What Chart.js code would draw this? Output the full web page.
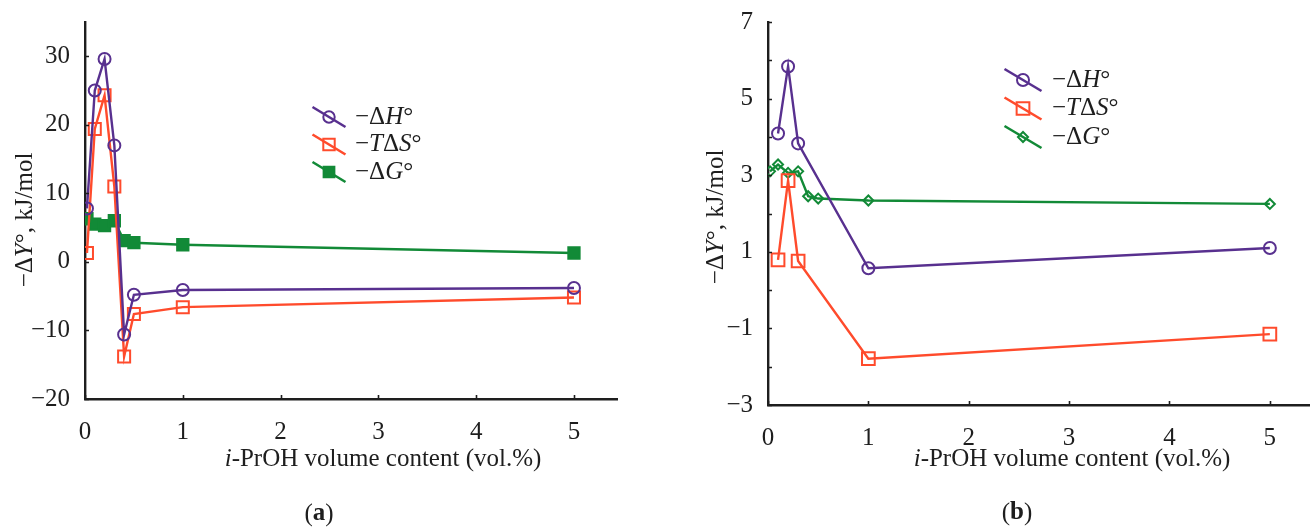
<!DOCTYPE html>
<html>
<head>
<meta charset="utf-8">
<script src="https://cdn.jsdelivr.net/npm/chart.js@4.4.1/dist/chart.umd.min.js"></script>
<style>
  html, body { margin: 0; padding: 0; background: #ffffff; }
  body { width: 1310px; height: 527px; position: relative; overflow: hidden; }
  .panel { position: absolute; top: 0; width: 655px; height: 527px; }
  #pa { left: 0; }
  #pb { left: 655px; }
</style>
</head>
<body>
<div class="panel" id="pa"><canvas id="ca" width="655" height="527"></canvas></div>
<div class="panel" id="pb"><canvas id="cb" width="655" height="527"></canvas></div>
<script>
// ---------- data ----------
const seriesNames = ['−ΔH°', '−TΔS°', '−ΔG°'];

// panel (a)
const volA      = [0.02, 0.1, 0.2, 0.3, 0.4, 0.5, 1, 5];
const enthalpyA = [7.8, 25.0, 29.6, 17.0, -10.6, -4.8, -4.1, -3.8];
const entropyA  = [1.3, 19.4, 24.3, 11.0, -13.8, -7.6, -6.6, -5.2];
const gibbsA    = [6.3, 5.5, 5.3, 6.0, 3.1, 2.8, 2.5, 1.3];

// panel (b)
const volB      = [0.1, 0.2, 0.3, 1, 5];
const enthalpyB = [4.09, 5.84, 3.83, 0.57, 1.1];
const entropyB  = [0.79, 2.86, 0.76, -1.79, -1.15];
const volBG     = [0.02, 0.1, 0.2, 0.3, 0.4, 0.5, 1, 5];
const gibbsB    = [3.1, 3.28, 3.06, 3.1, 2.45, 2.39, 2.34, 2.25];

// ticks
const xTickValues  = [0, 1, 2, 3, 4, 5];
const yTickValuesA = [-20, -10, 0, 10, 20, 30];
const yTickValuesB = [-3, -2, -1, 0, 1, 2, 3, 4, 5, 6, 7];
const yLabelledB   = [-3, -1, 1, 3, 5, 7];

// ---------- styling ----------
const PURPLE = '#58308f';
const RED    = '#ff4b2c';
const GREEN  = '#128a37';
const INK    = '#1e1e1e';
const SERIF  = '"Liberation Serif", "Times New Roman", serif';
const FS     = 25;

function pts(xs, ys) { return xs.map((x, i) => ({ x: x, y: ys[i] })); }
function minusSign(v) { return String(v).replace('-', '−'); }

function series(label, xs, ys, color, style, radius, filled) {
  return {
    label: label,
    data: pts(xs, ys),
    borderColor: color,
    borderWidth: 2.4,
    tension: 0,
    clip: 0,
    pointStyle: style,
    pointRadius: radius,
    pointHoverRadius: radius,
    pointBorderWidth: 2,
    pointBorderColor: color,
    pointBackgroundColor: filled ? color : 'rgba(255,255,255,0)',
    _filled: filled
  };
}

// text made of plain and italic runs
function drawRich(ctx, runs, x, y, align, angle) {
  ctx.save();
  ctx.translate(x, y);
  if (angle) ctx.rotate(angle);
  ctx.textBaseline = 'middle';
  ctx.fillStyle = INK;
  let total = 0;
  runs.forEach(r => {
    ctx.font = (r.b ? 'bold ' : '') + (r.i ? 'italic ' : '') + FS + 'px ' + SERIF;
    r.w = ctx.measureText(r.t).width;
    total += r.w;
  });
  let cx = align === 'center' ? -total / 2 : 0;
  runs.forEach(r => {
    ctx.font = (r.b ? 'bold ' : '') + (r.i ? 'italic ' : '') + FS + 'px ' + SERIF;
    ctx.textAlign = 'left';
    ctx.fillText(r.t, cx, 0);
    cx += r.w;
  });
  ctx.restore();
}

// legend label: Latin letters in italics
function labelRuns(label) {
  const runs = [];
  for (const ch of label) {
    const it = /[A-Za-z]/.test(ch);
    if (runs.length && runs[runs.length - 1].i === it) runs[runs.length - 1].t += ch;
    else runs.push({ t: ch, i: it });
  }
  return runs;
}

function drawMarker(ctx, ds, x, y) {
  const r = ds.pointRadius;
  ctx.save();
  ctx.lineWidth = ds.pointBorderWidth;
  ctx.strokeStyle = ds.pointBorderColor;
  ctx.fillStyle = ds._filled ? ds.pointBorderColor : '#ffffff';
  ctx.beginPath();
  if (ds.pointStyle === 'circle') {
    ctx.arc(x, y, r, 0, Math.PI * 2);
  } else if (ds.pointStyle === 'rect') {
    const s = Math.SQRT1_2 * r;
    ctx.rect(x - s, y - s, 2 * s, 2 * s);
  } else {
    ctx.moveTo(x - r, y); ctx.lineTo(x, y - r); ctx.lineTo(x + r, y); ctx.lineTo(x, y + r); ctx.closePath();
  }
  if (ds._filled) ctx.fill();
  ctx.stroke();
  ctx.restore();
}

// short tick marks pointing into the plot area
const innerTicks = {
  id: 'innerTicks',
  afterDraw(chart, args, opts) {
    const { ctx, chartArea, scales } = chart;
    const len = opts.len || 4;
    ctx.save();
    ctx.strokeStyle = INK;
    ctx.lineWidth = 1.6;
    ctx.beginPath();
    scales.y.ticks.forEach(t => {
      const py = Math.round(scales.y.getPixelForValue(t.value)) + 0.5;
      ctx.moveTo(chartArea.left, py); ctx.lineTo(chartArea.left + len, py);
    });
    scales.x.ticks.forEach(t => {
      const px = Math.round(scales.x.getPixelForValue(t.value)) + 0.5;
      ctx.moveTo(px, chartArea.bottom); ctx.lineTo(px, chartArea.bottom - len);
    });
    ctx.stroke();
    ctx.restore();
  }
};

// legend with slanted line through each marker, plus axis titles and caption
const annotations = {
  id: 'annotations',
  afterDraw(chart, args, o) {
    const ctx = chart.ctx;
    chart.data.datasets.forEach((ds, i) => {
      const cy = o.legend.y + i * o.legend.dy;
      const cx = o.legend.x;
      ctx.save();
      ctx.strokeStyle = ds.borderColor;
      ctx.lineWidth = 2.6;
      ctx.beginPath();
      ctx.moveTo(cx - o.legend.hx, cy - o.legend.hy);
      ctx.lineTo(cx + o.legend.hx, cy + o.legend.hy);
      ctx.stroke();
      ctx.restore();
      drawMarker(ctx, Object.assign({}, ds, { pointRadius: ds.pointRadius * o.legend.scale }), cx, cy);
      drawRich(ctx, labelRuns(ds.label), o.legend.tx, cy, 'left', 0);
    });
    drawRich(ctx, [{ t: '−Δ' }, { t: 'Y', i: true }, { t: '°, kJ/mol' }], o.yTitle.x, o.yTitle.y, 'center', -Math.PI / 2);
    drawRich(ctx, [{ t: 'i', i: true }, { t: '-PrOH volume content (vol.%)' }], o.xTitle.x, o.xTitle.y, 'center', 0);
    drawRich(ctx, [{ t: '(' }, { t: o.caption.t, b: true }, { t: ')' }], o.caption.x, o.caption.y, 'center', 0);
  }
};

function makeChart(canvas, datasets, cfg) {
  return new Chart(canvas, {
    type: 'line',
    data: { datasets: datasets },
    plugins: [innerTicks, annotations],
    options: {
      responsive: false,
      devicePixelRatio: 1,
      animation: false,
      events: [],
      layout: { padding: cfg.padding, autoPadding: false },
      plugins: {
        legend: { display: false },
        tooltip: { enabled: false },
        innerTicks: { len: 4 },
        annotations: cfg.notes
      },
      scales: {
        x: {
          type: 'linear',
          min: 0, max: cfg.xMax,
          grid: { display: false },
          border: { display: true, color: INK, width: 2.4 },
          afterBuildTicks: s => { s.ticks = xTickValues.map(v => ({ value: v })); },
          ticks: {
            font: { family: SERIF, size: FS },
            color: INK,
            padding: 10,
            maxRotation: 0,
            autoSkip: false,
            callback: v => minusSign(v)
          },
          afterFit: s => { s.height = cfg.xHeight; s.paddingLeft = 0; s.paddingRight = 0; }
        },
        y: {
          type: 'linear',
          min: cfg.yMin, max: cfg.yMax,
          grid: { display: false },
          border: { display: true, color: INK, width: 2.4 },
          afterBuildTicks: s => { s.ticks = cfg.yTicks.map(v => ({ value: v })); },
          ticks: {
            font: { family: SERIF, size: FS },
            color: INK,
            padding: 7,
            autoSkip: false,
            callback: v => (cfg.yLabelled.includes(v) ? minusSign(v) : '')
          },
          afterFit: s => { s.width = cfg.yWidth; s.paddingTop = 0; s.paddingBottom = 0; }
        }
      }
    }
  });
}

// panel (a)
makeChart(document.getElementById('ca'), [
  series(seriesNames[0], volA, enthalpyA, PURPLE, 'circle', 6, false),
  series(seriesNames[1], volA, entropyA, RED, 'rect', 8.5, false),
  series(seriesNames[2], volA, gibbsA, GREEN, 'rect', 8, true)
], {
  padding: { top: 22, right: 38, bottom: 0, left: 0 },
  xMax: 5.44, xHeight: 128, yWidth: 85,
  yMin: -20, yMax: 35, yTicks: yTickValuesA, yLabelled: yTickValuesA,
  notes: {
    legend: { x: 329, y: 117, dy: 27.5, hx: 16.5, hy: 10, tx: 355, scale: 0.95 },
    yTitle: { x: 25, y: 220 },
    xTitle: { x: 383, y: 459 },
    caption: { t: 'a', x: 319, y: 514 }
  }
});

// panel (b)
makeChart(document.getElementById('cb'), [
  series(seriesNames[0], volB, enthalpyB, PURPLE, 'circle', 6, false),
  series(seriesNames[1], volB, entropyB, RED, 'rect', 9, false),
  series(seriesNames[2], volBG, gibbsB, GREEN, 'rectRot', 5, false)
], {
  padding: { top: 22, right: 0, bottom: 0, left: 0 },
  xMax: 5.40, xHeight: 122, yWidth: 113,
  yMin: -3, yMax: 7, yTicks: yTickValuesB, yLabelled: yLabelledB,
  notes: {
    legend: { x: 368, y: 80, dy: 28.5, hx: 18.5, hy: 11, tx: 397, scale: 1 },
    yTitle: { x: 61, y: 217 },
    xTitle: { x: 417, y: 459 },
    caption: { t: 'b', x: 362, y: 513 }
  }
});
</script>
</body>
</html>
